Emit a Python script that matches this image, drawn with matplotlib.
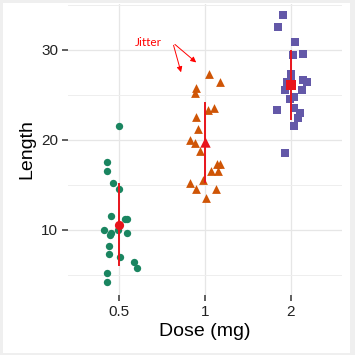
import matplotlib.pyplot as plt
import numpy as np
from matplotlib.patches import Rectangle

plt.rcParams['font.family'] = ['Liberation Sans', 'DejaVu Sans']

doses = ['0.5', '1', '2']

# Length values per dose with the horizontal jitter
len_05 = [21.5, 17.6, 16.5, 15.2, 14.5, 11.5, 11.2, 11.2, 10.0, 10.0,
          9.7, 9.7, 9.4, 8.2, 7.3, 7.0, 6.4, 5.8, 5.2, 4.2]
jit_05 = [-0.01, -0.15, -0.15, -0.08, 0.0, -0.10, 0.09, 0.07, -0.18, -0.02,
          -0.10, 0.09, -0.11, -0.12, -0.12, 0.01, 0.17, 0.20, -0.14, -0.14]

len_1 = [27.3, 26.4, 25.8, 25.2, 23.6, 23.3, 22.5, 21.2, 20.0, 19.7,
         18.8, 17.3, 17.3, 16.5, 16.5, 15.5, 15.2, 14.5, 14.5, 13.6]
jit_1 = [0.05, 0.18, -0.10, -0.12, 0.10, 0.03, -0.11, -0.08, -0.17, -0.12,
         -0.06, 0.14, 0.17, 0.07, 0.15, -0.02, -0.18, -0.10, 0.13, 0.01]

len_2 = [33.9, 32.5, 30.9, 29.5, 29.4, 27.3, 26.7, 26.4, 26.4, 26.4,
         25.5, 25.5, 24.8, 24.5, 23.6, 23.3, 23.0, 22.4, 21.5, 18.5]
jit_2 = [-0.09, -0.15, 0.05, 0.15, 0.03, 0.01, 0.15, -0.04, 0.19, 0.0,
         -0.07, 0.13, 0.04, -0.01, 0.04, -0.16, 0.11, 0.09, 0.04, -0.07]

groups = [(len_05, jit_05), (len_1, jit_1), (len_2, jit_2)]
colors = ['#1a8560', '#cf5506', '#6358a8']
markers = ['o', '^', 's']
sizes = [28, 40, 28]
red = '#e8141c'

fig = plt.figure(figsize=(3.55, 3.55), dpi=100)
fig.patch.set_facecolor('#efefef')
fig.patches.append(Rectangle((3 / 355, 2 / 355), 347 / 355, 350 / 355,
                             transform=fig.transFigure, facecolor='white',
                             edgecolor='none', zorder=-5))

ax = fig.add_axes([68 / 355, 60 / 355, 274 / 355, 291 / 355])
ax.set_zorder(2)
ax.set_facecolor('white')

for i, (vals, jit) in enumerate(groups):
    vals = np.array(vals)
    x = i + np.array(jit)
    ax.scatter(x, vals, s=sizes[i], marker=markers[i], color=colors[i],
               linewidths=0, zorder=3)
    m = vals.mean()
    sd = vals.std(ddof=1)
    ax.plot([i, i], [m - sd, m + sd], color=red, lw=1.4, zorder=4)
    ax.scatter([i], [m], s=sizes[i] + 16, marker=markers[i], color=red,
               linewidths=0, zorder=5)

ax.set_xlim(-0.6, 2.6)
ax.set_ylim(2.78, 35.1)
ax.set_xticks(range(3))
ax.set_xticklabels(doses)
ax.set_yticks([10, 20, 30])
ax.set_yticks([5, 15, 25, 35], minor=True)

ax.grid(True, which='major', color='#e6e6e6', lw=0.9)
ax.grid(True, which='minor', axis='y', color='#eeeeee', lw=0.7)
ax.set_axisbelow(True)
for s in ax.spines.values():
    s.set_visible(False)
ax.tick_params(axis='both', which='major', length=4, width=1.1,
               color='#333333', labelsize=11, labelcolor='#222222', pad=3)
ax.tick_params(axis='y', which='minor', length=0)

ax.set_xlabel('Dose (mg)', fontsize=14, labelpad=3)
ax.set_ylabel('Length', fontsize=14, labelpad=4)

ax.text(0.343, 30.78, 'Jitter', color='red', fontsize=8.5, ha='center',
        va='center', family=['Lato', 'DejaVu Sans'])
for end in [(0.729, 27.22), (0.922, 28.41)]:
    ax.annotate('', xy=end, xytext=(0.624, 30.81),
                arrowprops=dict(arrowstyle='-|>', color='red', lw=0.7,
                                mutation_scale=8))

fig.savefig('out.png', dpi=100)
